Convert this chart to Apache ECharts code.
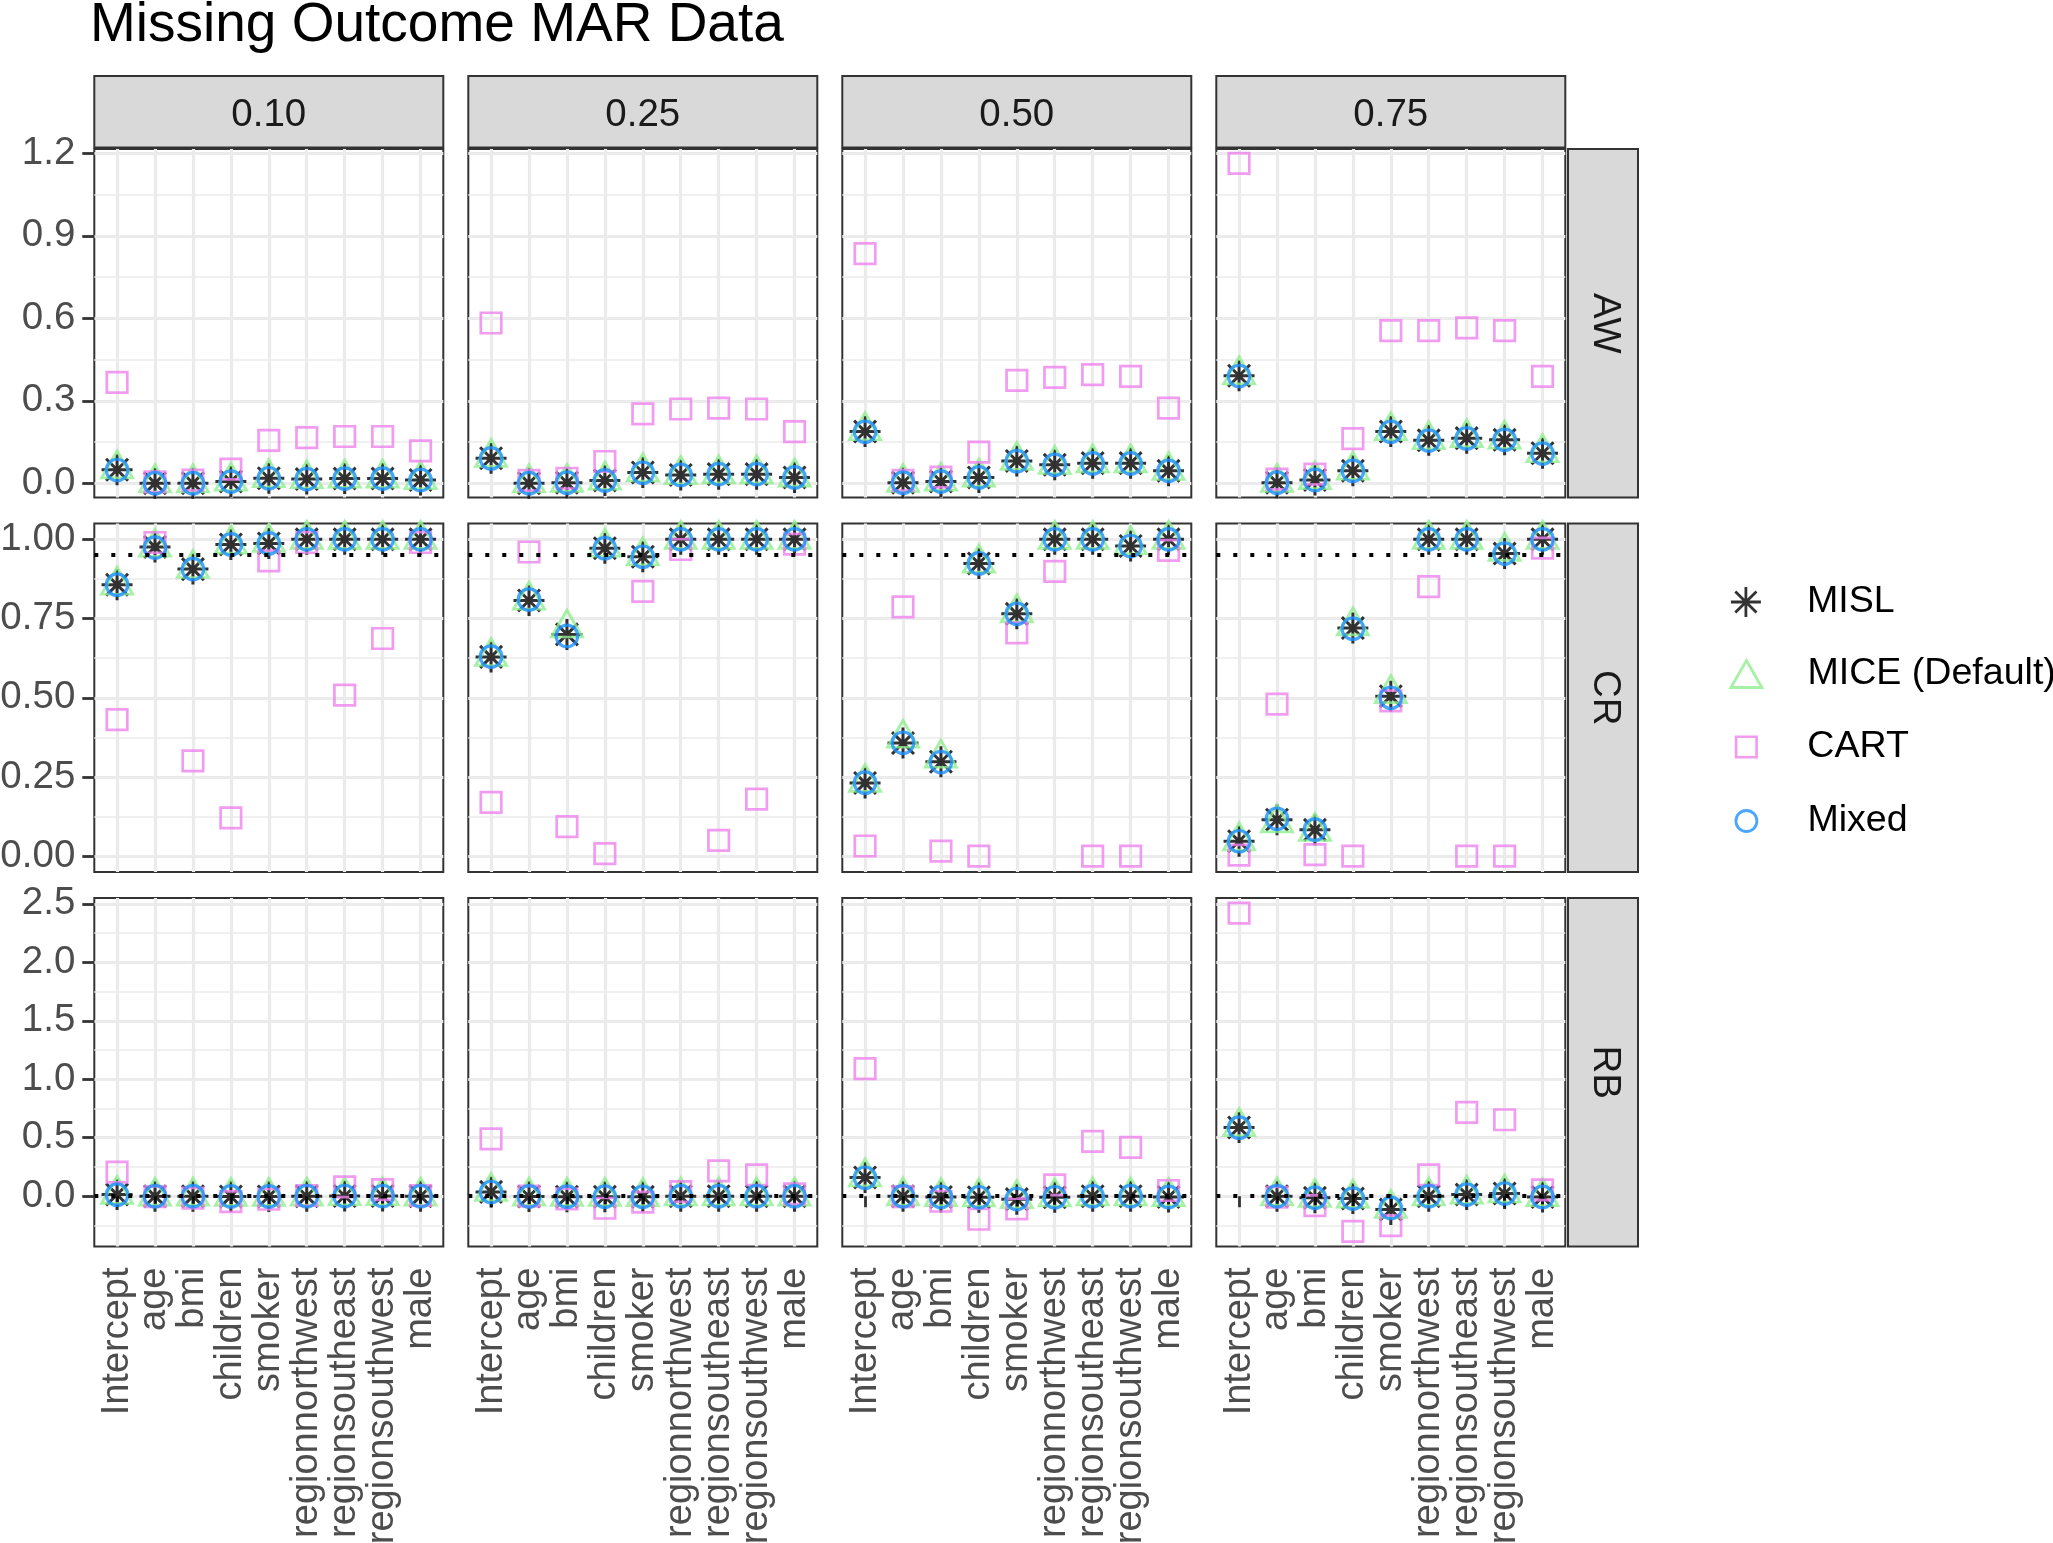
<!DOCTYPE html>
<html><head><meta charset="utf-8">
<script src="https://cdn.jsdelivr.net/npm/echarts@6/dist/echarts.min.js"></script>
<style>html,body{margin:0;padding:0;background:#fff}#c{width:2053px;height:1543px}</style>
</head><body><div id="c"></div>
<script>
// ---------- DATA ----------
const categories = ['Intercept','age','bmi','children','smoker','regionnorthwest','regionsoutheast','regionsouthwest','male'];
const proportions = ['0.10','0.25','0.50','0.75'];
const metrics = ['AW','CR','RB'];
const methods = ['MISL','MICE (Default)','CART','Mixed'];

// each array: one row per missing proportion (0.10, 0.25, 0.50, 0.75), one value per category
const aw_misl = [
 [0.049, 0.000, 0.000, 0.006, 0.018, 0.015, 0.017, 0.017, 0.012],
 [0.091, 0.000, 0.002, 0.010, 0.039, 0.030, 0.033, 0.033, 0.021],
 [0.188, 0.002, 0.006, 0.021, 0.081, 0.067, 0.073, 0.073, 0.045],
 [0.391, 0.002, 0.012, 0.045, 0.188, 0.156, 0.164, 0.158, 0.109]
];
const aw_mice = [
 [0.052, 0.001, 0.001, 0.007, 0.020, 0.016, 0.018, 0.018, 0.013],
 [0.094, 0.001, 0.003, 0.011, 0.041, 0.031, 0.034, 0.034, 0.022],
 [0.191, 0.003, 0.007, 0.022, 0.083, 0.068, 0.074, 0.074, 0.046],
 [0.394, 0.003, 0.013, 0.047, 0.191, 0.158, 0.166, 0.160, 0.111]
];
const aw_cart = [
 [0.367, 0.005, 0.011, 0.051, 0.156, 0.166, 0.170, 0.170, 0.118],
 [0.583, 0.010, 0.018, 0.079, 0.252, 0.270, 0.273, 0.270, 0.188],
 [0.835, 0.010, 0.022, 0.113, 0.374, 0.385, 0.395, 0.389, 0.273],
 [1.164, 0.015, 0.033, 0.162, 0.555, 0.555, 0.565, 0.555, 0.389]
];
const aw_mixed = [
 [0.048, 0.000, 0.000, 0.006, 0.018, 0.015, 0.017, 0.017, 0.012],
 [0.090, 0.000, 0.002, 0.010, 0.038, 0.030, 0.033, 0.033, 0.021],
 [0.187, 0.002, 0.006, 0.021, 0.080, 0.067, 0.072, 0.072, 0.045],
 [0.390, 0.002, 0.012, 0.045, 0.187, 0.155, 0.163, 0.158, 0.108]
];

const cr_misl = [
 [0.857, 0.976, 0.906, 0.984, 0.987, 1.000, 1.000, 1.000, 1.000],
 [0.629, 0.807, 0.700, 0.972, 0.945, 1.000, 1.000, 1.000, 1.000],
 [0.231, 0.357, 0.298, 0.924, 0.765, 1.000, 1.000, 0.979, 1.000],
 [0.047, 0.115, 0.083, 0.720, 0.505, 1.000, 1.000, 0.955, 1.000]
];
const cr_mice = [
 [0.855, 0.975, 0.908, 0.985, 0.990, 1.000, 1.000, 1.000, 1.000],
 [0.630, 0.808, 0.720, 0.975, 0.948, 1.000, 1.000, 1.000, 1.000],
 [0.233, 0.372, 0.309, 0.925, 0.768, 1.000, 1.000, 0.983, 1.000],
 [0.048, 0.105, 0.078, 0.727, 0.513, 1.000, 1.000, 0.962, 1.000]
];
const cr_cart = [
 [0.431, 0.990, 0.301, 0.121, 0.932, 0.990, 0.508, 0.687, 0.990],
 [0.170, 0.960, 0.093, 0.008, 0.836, 0.968, 0.050, 0.180, 0.985],
 [0.032, 0.787, 0.016, 0.000, 0.705, 0.899, 0.000, 0.000, 0.965],
 [0.003, 0.480, 0.005, 0.000, 0.490, 0.851, 0.000, 0.000, 0.972]
];
const cr_mixed = [
 [0.857, 0.974, 0.906, 0.984, 0.987, 1.000, 1.000, 1.000, 1.000],
 [0.630, 0.810, 0.695, 0.972, 0.945, 1.000, 1.000, 1.000, 1.000],
 [0.232, 0.358, 0.297, 0.924, 0.765, 1.000, 1.000, 0.979, 1.000],
 [0.047, 0.118, 0.084, 0.718, 0.500, 1.000, 1.000, 0.955, 1.000]
];

const rb_misl = [
 [0.014, 0.000, 0.000, -0.002, -0.002, 0.000, 0.002, 0.002, 0.000],
 [0.037, -0.002, -0.004, -0.004, -0.005, 0.000, 0.000, 0.000, 0.000],
 [0.160, 0.000, -0.006, -0.009, -0.025, -0.009, 0.000, 0.000, -0.006],
 [0.588, 0.000, -0.014, -0.020, -0.114, 0.000, 0.014, 0.023, -0.006]
];
const rb_mice = [
 [0.016, 0.001, 0.001, -0.001, -0.001, 0.001, 0.004, 0.004, 0.001],
 [0.040, 0.000, -0.002, -0.002, -0.004, 0.002, 0.002, 0.002, 0.001],
 [0.165, 0.002, -0.004, -0.007, -0.022, -0.007, 0.002, 0.002, -0.004],
 [0.595, 0.002, -0.011, -0.017, -0.105, 0.002, 0.017, 0.027, -0.004]
];
const rb_cart = [
 [0.206, -0.003, -0.017, -0.046, -0.026, 0.006, 0.080, 0.057, 0.006],
 [0.490, 0.000, -0.023, -0.103, -0.051, 0.040, 0.217, 0.183, 0.020],
 [1.091, -0.003, -0.043, -0.197, -0.109, 0.097, 0.469, 0.417, 0.049],
 [2.420, -0.009, -0.080, -0.300, -0.251, 0.183, 0.717, 0.654, 0.054]
];
const rb_mixed = [
 [0.013, 0.000, 0.000, -0.002, -0.002, 0.000, 0.002, 0.002, 0.000],
 [0.036, -0.002, -0.004, -0.004, -0.005, 0.000, 0.000, 0.000, 0.000],
 [0.158, 0.000, -0.006, -0.009, -0.024, -0.009, 0.000, 0.000, -0.006],
 [0.586, 0.000, -0.014, -0.020, -0.100, 0.000, 0.014, 0.023, -0.006]
];

// axis ticks / limits per metric row
const awTicks = [0, 0.3, 0.6, 0.9, 1.2];
const awMinor = [0.15, 0.45, 0.75, 1.05];
const awLimits = [-0.052, 1.216];
const crTicks = [0, 0.25, 0.5, 0.75, 1.0];
const crMinor = [0.125, 0.375, 0.625, 0.875];
const crLimits = [-0.05, 1.05];
const rbTicks = [0, 0.5, 1.0, 1.5, 2.0, 2.5];
const rbMinor = [-0.25, 0.25, 0.75, 1.25, 1.75, 2.25];
const rbLimits = [-0.43, 2.55];
const crReference = 0.95;
const rbReference = 0;

// ---------- BUILD ----------
const FONT = 'Liberation Sans, Arial, Helvetica, sans-serif';
const FS = 38.5;
const FSX = 38;
const FSL = 37.6;
const values = {
  AW: {'MISL': aw_misl, 'MICE (Default)': aw_mice, 'CART': aw_cart, 'Mixed': aw_mixed},
  CR: {'MISL': cr_misl, 'MICE (Default)': cr_mice, 'CART': cr_cart, 'Mixed': cr_mixed},
  RB: {'MISL': rb_misl, 'MICE (Default)': rb_mice, 'CART': rb_cart, 'Mixed': rb_mixed}
};
const rowAxis = {
  AW: {ticks: awTicks, minor: awMinor, lim: awLimits, dec: 1, ref: null},
  CR: {ticks: crTicks, minor: crMinor, lim: crLimits, dec: 2, ref: crReference},
  RB: {ticks: rbTicks, minor: rbMinor, lim: rbLimits, dec: 1, ref: rbReference}
};
const xTickValues = categories.map((_, i) => i + 1);
const xLimits = [0.4, categories.length + 0.6];

const LAY = {left: 94.3, top: 149, w: 349, h: 348.5, colStep: 374, rowStep: 374.5,
             stripTop: 76, stripH: 71.5, rStripLeft: 1568, rStripW: 70,
             legendSymX: 1745, legendTextX: 1806, legendY: [602, 674, 747, 821]};

const ASTERISK = 'path://M0,-1L0,1M-1,0L1,0M-0.7071,-0.7071L0.7071,0.7071M-0.7071,0.7071L0.7071,-0.7071';
const mStyle = {
  'MISL': {symbol: ASTERISK, symbolSize: 31, legendSize: [31, 30], symbolOffset: [0, 0], color: '#000000', bw: 3},
  'MICE (Default)': {symbol: 'triangle', symbolSize: [31, 27], legendSize: [31, 27], symbolOffset: [0, -4.5], color: '#90EE90', bw: 2.8},
  'CART': {symbol: 'rect', symbolSize: 20.5, legendSize: [20.5, 20.5], symbolOffset: [0, 0], color: '#EE82EE', bw: 2.7},
  'Mixed': {symbol: 'circle', symbolSize: 21.5, legendSize: [21, 21], symbolOffset: [0, 0], color: '#1E90FF', bw: 3.2}
};

const grids = [], xAxes = [], yAxes = [], series = [], graphics = [];
metrics.forEach((met, r) => {
  const ax = rowAxis[met];
  proportions.forEach((p, c) => {
    const k = grids.length;
    const gx = LAY.left + c * LAY.colStep, gy = LAY.top + r * LAY.rowStep;
    grids.push({left: gx, top: gy, width: LAY.w, height: LAY.h, show: true,
      containLabel: false, outerBoundsMode: 'none',
      backgroundColor: '#ffffff', borderColor: '#333333', borderWidth: 2});
    xAxes.push({type: 'value', gridIndex: k, min: xLimits[0], max: xLimits[1], position: 'bottom',
      axisLine: {show: false},
      axisTick: {show: r === metrics.length - 1, customValues: xTickValues, length: 11,
        lineStyle: {color: '#333333', width: 2.8}},
      axisLabel: {show: r === metrics.length - 1, customValues: xTickValues, rotate: 90, margin: 21,
        fontSize: FSX, color: '#4D4D4D', fontFamily: FONT, hideOverlap: false,
        showMinLabel: true, showMaxLabel: true,
        formatter: v => categories[Math.round(v) - 1]},
      splitLine: {show: true, lineStyle: {color: '#EBEBEB', width: 3.2}}
    });
    const yMain = yAxes.length;
    yAxes.push({type: 'value', gridIndex: k, min: ax.lim[0], max: ax.lim[1], position: 'left',
      axisLine: {show: false},
      axisTick: {show: c === 0, customValues: ax.ticks, length: 12, lineStyle: {color: '#333333', width: 2.8}},
      axisLabel: {show: c === 0, customValues: ax.ticks, margin: 19, fontSize: FS, color: '#4D4D4D',
        fontFamily: FONT, formatter: v => Number(v).toFixed(ax.dec)},
      splitLine: {show: true, lineStyle: {color: '#EBEBEB', width: 3.2}}
    });
    yAxes.push({type: 'value', gridIndex: k, min: ax.lim[0], max: ax.lim[1], position: 'right',
      axisLine: {show: false},
      axisTick: {show: false, customValues: ax.minor},
      axisLabel: {show: false},
      splitLine: {show: true, lineStyle: {color: '#EBEBEB', width: 1.6}}
    });
    methods.forEach((m, mi) => {
      const st = mStyle[m];
      const s = {
        type: 'scatter', name: m, xAxisIndex: k, yAxisIndex: yMain,
        symbol: st.symbol, symbolSize: st.symbolSize, symbolOffset: st.symbolOffset,
        itemStyle: {color: 'transparent', borderColor: st.color, borderWidth: st.bw},
        emphasis: {disabled: true}, silent: true,
        data: values[met][m][c].map((v, i) => [xTickValues[i], v])
      };
      if (mi === 0 && ax.ref !== null) {
        s.markLine = {silent: true, symbol: ['none', 'none'], label: {show: false},
          lineStyle: {color: '#000000', width: 4, type: [4, 13]},
          emphasis: {disabled: true},
          data: [{yAxis: ax.ref}]};
      }
      series.push(s);
    });
    // top strips
    if (r === 0) {
      graphics.push({type: 'rect', shape: {x: gx, y: LAY.stripTop, width: LAY.w, height: LAY.stripH},
        style: {fill: '#D9D9D9', stroke: '#333333', lineWidth: 2}, silent: true});
      graphics.push({type: 'text', x: gx + LAY.w / 2, y: LAY.stripTop + LAY.stripH / 2 + 4,
        style: {text: p, fontSize: FS, fill: '#1A1A1A', fontFamily: FONT, align: 'center', verticalAlign: 'middle'}, silent: true});
    }
    // right strips
    if (c === proportions.length - 1) {
      graphics.push({type: 'rect', shape: {x: LAY.rStripLeft, y: gy, width: LAY.rStripW, height: LAY.h},
        style: {fill: '#D9D9D9', stroke: '#333333', lineWidth: 2}, silent: true});
      graphics.push({type: 'text', x: LAY.rStripLeft + LAY.rStripW / 2 + 2, y: gy + LAY.h / 2, rotation: -Math.PI / 2,
        style: {text: met, fontSize: FS, fill: '#1A1A1A', fontFamily: FONT, align: 'center', verticalAlign: 'middle'}, silent: true});
    }
  });
});

// one legend component per method so each key keeps its own symbol size
const LEG_TEXT_H = 40;
const legends = methods.map((m, i) => {
  const st = mStyle[m];
  const [iw, ih] = st.legendSize;
  return {
    orient: 'vertical', left: LAY.legendSymX - iw / 2, top: LAY.legendY[i] - LEG_TEXT_H / 2,
    itemWidth: iw, itemHeight: ih, selectedMode: false, padding: 0,
    textStyle: {fontSize: FSL, color: '#000000', fontFamily: FONT, lineHeight: LEG_TEXT_H,
      padding: [0, 0, 0, LAY.legendTextX - LAY.legendSymX - iw / 2 - 5]},
    data: [{name: m, icon: st.symbol,
      itemStyle: {color: 'transparent', borderColor: st.color, borderWidth: Math.min(st.bw, 2.8), borderType: 'solid'}}]
  };
});

const option = {
  animation: false,
  backgroundColor: '#ffffff',
  textStyle: {fontFamily: FONT},
  title: {text: 'Missing Outcome MAR Data', left: 90, top: -2, padding: 0,
    textStyle: {fontSize: 55, fontWeight: 'normal', color: '#000000', fontFamily: FONT}},
  legend: legends,
  grid: grids, xAxis: xAxes, yAxis: yAxes, series: series, graphic: graphics
};
const chart = echarts.init(document.getElementById('c'), null, {renderer: 'canvas'});
chart.setOption(option);
</script></body></html>
